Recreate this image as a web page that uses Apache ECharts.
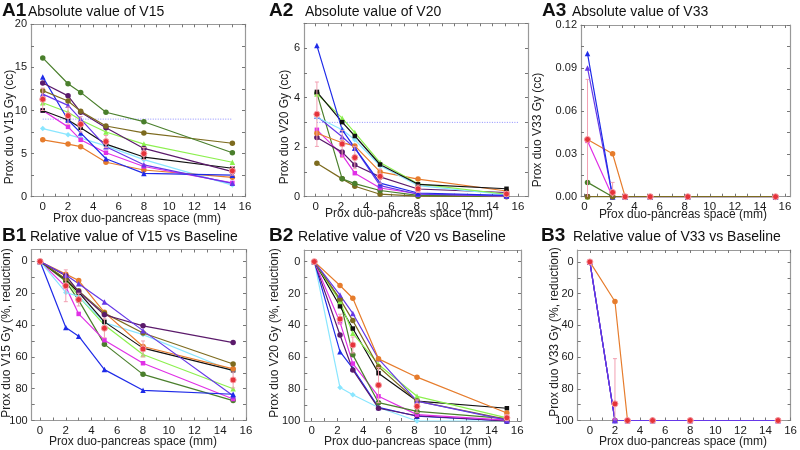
<!DOCTYPE html>
<html><head><meta charset="utf-8">
<script src="https://cdn.jsdelivr.net/npm/echarts@6/dist/echarts.min.js"></script>
<style>html,body{margin:0;padding:0;background:#fff}#c{width:800px;height:450px}</style>
</head><body><div id="c"></div>
<script>
// ---------- DATA ----------
// x positions (mm) per panel
const xA1 = [0, 2, 3, 5, 8, 15];
const xA2 = [0.1, 2.1, 3.1, 5.1, 8.1, 15.1];
const xA3 = [0.25, 2.25, 3.25, 5.25, 8.25, 15.25];
const xB1 = [0, 2, 3, 5, 8, 15];
const xB2 = [0.2, 2.2, 3.2, 5.2, 8.2, 15.2];
const xB3 = [0, 2, 3, 5, 8, 15];

// A1: absolute V15 (cc)
const darkGreenA1 = [16.1, 13.1, 12.1, 9.8, 8.7, 5.1];
const oliveA1     = [12.3, 11.1, 9.9, 8.2, 7.4, 6.2];
const purpleA1    = [13.2, 11.7, 9.8, 8.0, 5.6, 2.9];
const violetA1    = [11.9, 10.6, 9.0, 5.8, 3.7, 1.55];
const blueA1      = [13.9, 8.9, 7.4, 4.4, 2.7, 2.5];
const limeA1      = [10.9, 9.8, 8.9, 7.5, 6.1, 4.0];
const blackA1     = [10.0, 8.9, 8.0, 6.1, 4.6, 3.3];
const magentaA1   = [10.0, 8.1, 6.6, 5.1, 3.5, 1.6];
const cyanA1      = [7.9, 7.2, 6.8, 5.9, 4.3, 1.35];
const orangeA1    = [6.6, 6.1, 5.8, 4.0, 3.1, 2.25];
const meanA1      = [11.3, 9.4, 8.4, 6.4, 5.0, 3.0];
const errA1       = [1.3, 1.0, 0.9, 0.7, 0.7, 0.5];
const thresholdA1 = 9;
const thrSpanA1 = [0, 15];

// A2: absolute V20 (cc)
const darkGreenA2 = [4.18, 0.72, 0.53, 0.25, 0.05, 0.02];
const oliveA2     = [1.35, 0.72, 0.42, 0.1, 0.02, 0.0];
const purpleA2    = [2.39, 1.8, 1.28, 0.8, 0.31, 0.17];
const violetA2    = [3.25, 2.42, 1.96, 0.45, 0.1, 0.03];
const blueA2      = [6.1, 2.7, 1.97, 0.55, 0.15, 0.05];
const limeA2      = [4.15, 3.17, 2.59, 1.38, 0.52, 0.1];
const blackA2     = [4.23, 3.01, 2.45, 1.3, 0.5, 0.32];
const magentaA2   = [2.7, 1.69, 0.95, 0.35, 0.12, 0.02];
const cyanA2      = [3.21, 2.7, 2.3, 1.25, 0.45, 0.08];
const orangeA2    = [2.56, 2.18, 2.05, 1.0, 0.71, 0.23];
const meanA2      = [3.33, 2.13, 1.58, 0.82, 0.32, 0.11];
const errA2       = [1.3, 0.55, 0.45, 0.3, 0.15, 0.08];
const thresholdA2 = 3;
const thrSpanA2 = [0.1, 16];

// A3: absolute V33 (cc)
const darkGreenA3 = [0.01, 0, 0, 0, 0, 0];
const oliveA3     = [0, 0, 0, 0, 0, 0];
const purpleA3    = [0, 0, 0, 0, 0, 0];
const violetA3    = [0.09, 0, 0, 0, 0, 0];
const blueA3      = [0.1, 0, 0, 0, 0, 0];
const limeA3      = [0, 0, 0, 0, 0, 0];
const blackA3     = [0, 0, 0, 0, 0, 0];
const magentaA3   = [0.039, 0, 0, 0, 0, 0];
const cyanA3      = [0, 0, 0, 0, 0, 0];
const orangeA3    = [0.04, 0.03, 0, 0, 0, 0];
const meanA3      = [0.04, 0.003, 0, 0, 0, 0];
const errA3       = [0.042, 0.007, 0, 0, 0, 0];

// B1: relative V15 reduction (%)
const darkGreenB1 = [0, 12.5, 24.5, 52, 71, 87.5];
const oliveB1     = [0, 11, 18.5, 32.5, 45, 64.5];
const purpleB1    = [0, 9, 19, 33.5, 40.5, 51];
const violetB1    = [0, 8.5, 14, 25.5, 43.5, 84.5];
const blueB1      = [0, 41.5, 47, 68, 81, 83.5];
const limeB1      = [0, 11, 22, 40, 58.5, 80];
const blackB1     = [0, 11.5, 19.5, 38, 54.5, 68.5];
const magentaB1   = [0, 16, 33, 49.5, 64, 86.5];
const cyanB1      = [0, 19.5, 22, 38.5, 46, 69];
const orangeB1    = [0, 8, 12, 32, 53.5, 67.5];
const meanB1      = [0, 15.3, 24, 42, 55, 74.5];
const errB1       = [0, 10, 4, 6, 5, 5];

// B2: relative V20 reduction (%)
const darkGreenB2 = [0, 24, 58.5, 88.5, 94, 98.5];
const oliveB2     = [0, 23.5, 37, 66, 87.5, 99];
const purpleB2    = [0, 46, 68, 92, 96.7, 100];
const violetB2    = [0, 21, 32.5, 61, 87.5, 99.5];
const blueB2      = [0, 56.5, 67, 91.5, 97, 100];
const limeB2      = [0, 25, 45, 64.5, 84.5, 98];
const blackB2     = [0, 28, 42, 70, 87.5, 92];
const magentaB2   = [0, 38, 64, 84.5, 96, 99.5];
const cyanB2      = [0, 79, 83.5, 91.5, 100, 100];
const orangeB2    = [0, 15, 23, 61, 72.5, 95];
const meanB2      = [0, 36, 52.3, 77.5, 90.8, 98];
const errB2       = [0, 3, 5, 11, 4, 2];

// B3: relative V33 reduction (%)
const darkGreenB3 = [0, 100, 100, 100, 100, 100];
const blueB3      = [0, 100, 100, 100, 100, 100];
const magentaB3   = [0, 100, 100, 100, 100, 100];
const violetB3    = [0, 100, 100, 100, 100, 100];
const orangeB3    = [0, 25, 100, 100, 100, 100];
const meanB3      = [0, 89.5, 100, 100, 100, 100];
const errB3       = [0, 28.5, 0, 0, 0, 0];

// tick labels
const xTickLabels = [0, 2, 4, 6, 8, 10, 12, 14, 16];
const xMinorTicks = [0,1,2,3,4,5,6,7,8,9,10,11,12,13,14,15,16];
const yLabelsA1 = [0, 5, 10, 15, 20];
const yTicksA1 = [0, 2.5, 5, 7.5, 10, 12.5, 15, 17.5, 20];
const yLabelsA2 = [0, 2, 4, 6];
const yTicksA2 = [0, 1, 2, 3, 4, 5, 6, 7];
const yLabelsA3 = [0, 0.03, 0.06, 0.09, 0.12];
const yTicksA3 = [0, 0.015, 0.03, 0.045, 0.06, 0.075, 0.09, 0.105, 0.12];
const yLabelsB = [0, 20, 40, 60, 80, 100];
const yTicksB = [0, 10, 20, 30, 40, 50, 60, 70, 80, 90, 100];

// ---------- STYLE ----------
const C = {
  darkGreen: '#4a7f2c', olive: '#7d6b1f', purple: '#5b1a6b', violet: '#6638e8',
  blue: '#1f2be8', lime: '#8cf04e', black: '#111111', magenta: '#e030e6',
  cyan: '#8ae6ff', orange: '#e67c2c', mean: '#e5333b', err: '#f2a0b2', thr: '#8c8cff'
};
const SYM = {
  darkGreen: 'circle', olive: 'circle', purple: 'circle', violet: 'triangle', blue: 'triangle',
  lime: 'triangle', black: 'rect', magenta: 'rect', cyan: 'diamond', orange: 'circle'
};
const FONT = 'Liberation Sans, Arial, sans-serif';

const panels = [
  { grid:{left:31, top:24.3, width:214, height:172.4}, xr:[-0.93,16], yr:[0,20], inv:false,
    yLabels:yLabelsA1, yTicks:yTicksA1, yFmt:v=>String(v), xs:xA1,
    lines:{cyan:cyanA1, orange:orangeA1, magenta:magentaA1, black:blackA1, lime:limeA1, blue:blueA1,
           violet:violetA1, purple:purpleA1, olive:oliveA1, darkGreen:darkGreenA1},
    mean:meanA1, err:errA1, thr:thresholdA1, thrSpan:thrSpanA1 },
  { grid:{left:304, top:23.3, width:224, height:173.4}, xr:[-0.92,16.8], yr:[0,7], inv:false,
    yLabels:yLabelsA2, yTicks:yTicksA2, yFmt:v=>String(v), xs:xA2,
    lines:{olive:oliveA2, darkGreen:darkGreenA2, magenta:magentaA2, purple:purpleA2, orange:orangeA2,
           violet:violetA2, cyan:cyanA2, lime:limeA2, black:blackA2, blue:blueA2},
    mean:meanA2, err:errA2, thr:thresholdA2, thrSpan:thrSpanA2 },
  { grid:{left:581, top:25, width:209, height:171.7}, xr:[-0.27,16.4], yr:[0,0.12], inv:false,
    yLabels:yLabelsA3, yTicks:yTicksA3, yFmt:v=>v.toFixed(2), xs:xA3,
    lines:{cyan:cyanA3, black:blackA3, purple:purpleA3, lime:limeA3, darkGreen:darkGreenA3,
           magenta:magentaA3, orange:orangeA3, violet:violetA3, blue:blueA3, olive:oliveA3},
    mean:meanA3, err:errA3 },
  { grid:{left:31.7, top:249.5, width:214.3, height:171}, xr:[-0.65,16], yr:[-7.5,100], inv:true,
    yLabels:yLabelsB, yTicks:yTicksB, yFmt:v=>String(v), xs:xB1,
    lines:{darkGreen:darkGreenB1, magenta:magentaB1, lime:limeB1, cyan:cyanB1, black:blackB1,
           orange:orangeB1, olive:oliveB1, purple:purpleB1, violet:violetB1, blue:blueB1},
    mean:meanB1, err:errB1 },
  { grid:{left:304.3, top:250, width:216.7, height:171}, xr:[-0.58,16.3], yr:[-7.3,100], inv:true,
    yLabels:yLabelsB, yTicks:yTicksB, yFmt:v=>String(v), xs:xB2,
    lines:{cyan:cyanB2, blue:blueB2, purple:purpleB2, magenta:magentaB2, darkGreen:darkGreenB2,
           black:blackB2, lime:limeB2, olive:oliveB2, violet:violetB2, orange:orangeB2},
    mean:meanB2, err:errB2 },
  { grid:{left:577.7, top:250, width:215, height:170.5}, xr:[-0.97,16], yr:[-7.5,100], inv:true,
    yLabels:yLabelsB, yTicks:yTicksB, yFmt:v=>String(v), xs:xB3,
    lines:{darkGreen:darkGreenB3, magenta:magentaB3, blue:blueB3, orange:orangeB3, violet:violetB3},
    mean:meanB3, err:errB3 }
];

const titles = [
  {tag:'A1', text:'Absolute value of V15', x:2, tx:28, y:11},
  {tag:'A2', text:'Absolute value of V20', x:269, tx:305, y:11},
  {tag:'A3', text:'Absolute value of V33', x:542, tx:572, y:11},
  {tag:'B1', text:'Relative value of V15 vs Baseline', x:2, tx:30, y:236},
  {tag:'B2', text:'Relative value of V20 vs Baseline', x:269, tx:298, y:236},
  {tag:'B3', text:'Relative value of V33 vs Baseline', x:541, tx:573, y:236}
];
const yNames = [
  {t:'Prox duo V15 Gy (cc)', x:10, y:127},
  {t:'Prox duo V20 Gy (cc)', x:285, y:127},
  {t:'Prox duo V33 Gy (cc)', x:538, y:130},
  {t:'Prox duo V15 Gy (%, reduction)', x:7, y:333},
  {t:'Prox duo V20 Gy (%, reduction)', x:275, y:333},
  {t:'Prox duo V33 Gy (%, reduction)', x:555, y:332}
];
const xNames = [
  {x:137, y:219}, {x:409, y:214}, {x:683, y:215},
  {x:133, y:442}, {x:408, y:442}, {x:683, y:442}
];
const xNameText = 'Prox duo-pancreas space (mm)';

// ---------- BUILD ----------
const AX = '#999999';
const grid = [], xAxis = [], yAxis = [], series = [], graphic = [];
panels.forEach((p, i) => {
  grid.push(Object.assign({containLabel:false}, p.grid));
  const base = {type:'value', gridIndex:i, min:p.xr[0], max:p.xr[1], splitLine:{show:false},
    axisLine:{show:true, onZero:false, lineStyle:{color:AX, width:1.2}}};
  xAxis.push(Object.assign({}, base, {position:'bottom',
    axisTick:{show:true, inside:true, length:3, customValues:xMinorTicks, lineStyle:{color:'#777'}},
    axisLabel:{show:true, customValues:xTickLabels, margin:4, fontSize:11.5, color:'#1a1a1a', fontFamily:FONT}}));
  xAxis.push(Object.assign({}, base, {position:'top',
    axisTick:{show:true, inside:true, length:3, customValues:xMinorTicks, lineStyle:{color:'#777'}},
    axisLabel:{show:false}}));
  const ybase = {type:'value', gridIndex:i, min:p.yr[0], max:p.yr[1], inverse:p.inv, splitLine:{show:false},
    axisLine:{show:true, onZero:false, lineStyle:{color:AX, width:1.2}}};
  yAxis.push(Object.assign({}, ybase, {position:'left',
    axisTick:{show:true, inside:true, length:3, customValues:p.yTicks, lineStyle:{color:'#777'}},
    axisLabel:{show:true, customValues:p.yLabels, formatter:p.yFmt, margin:4, fontSize:11, color:'#1a1a1a', fontFamily:FONT}}));
  yAxis.push(Object.assign({}, ybase, {position:'right',
    axisTick:{show:true, inside:true, length:3, customValues:p.yTicks, lineStyle:{color:'#777'}},
    axisLabel:{show:false}}));
  const xi = i*2, yi = i*2;
  if (p.thr !== undefined) {
    series.push({type:'line', xAxisIndex:xi, yAxisIndex:yi, symbol:'none', silent:true, z:1,
      data:[[p.thrSpan[0], p.thr],[p.thrSpan[1], p.thr]],
      lineStyle:{color:C.thr, width:1, type:[1,1.5]}});
  }
  Object.keys(p.lines).forEach((k) => {
    series.push({type:'line', xAxisIndex:xi, yAxisIndex:yi, z:2,
      data:p.xs.map((x, j) => [x, p.lines[k][j]]),
      symbol:SYM[k], symbolSize:SYM[k]==='rect'?4.5:5.5, showSymbol:true,
      lineStyle:{color:C[k], width:1.2}, itemStyle:{color:C[k]}});
  });
  // error bars around the mean
  series.push({type:'custom', xAxisIndex:xi, yAxisIndex:yi, z:3, clip:true,
    data:p.xs.map((x, j) => [x, p.mean[j], p.err[j]]),
    renderItem:(params, api) => {
      const x = api.value(0), y = api.value(1), e = api.value(2);
      if (!e) return null;
      const a = api.coord([x, y + e]), b = api.coord([x, y - e]);
      const st = {stroke:C.err, lineWidth:1};
      return {type:'group', children:[
        {type:'line', shape:{x1:a[0], y1:a[1], x2:b[0], y2:b[1]}, style:st},
        {type:'line', shape:{x1:a[0]-2, y1:a[1], x2:a[0]+2, y2:a[1]}, style:st},
        {type:'line', shape:{x1:b[0]-2, y1:b[1], x2:b[0]+2, y2:b[1]}, style:st}
      ]};
    }});
  series.push({type:'line', xAxisIndex:xi, yAxisIndex:yi, z:4,
    data:p.xs.map((x, j) => [x, p.mean[j]]),
    symbol:'circle', symbolSize:6,
    lineStyle:{width:0, opacity:0}, itemStyle:{color:C.mean, borderColor:'#f7a0a8', borderWidth:1}});
});

titles.forEach(t => {
  graphic.push({type:'text', x:t.x, y:t.y, style:{text:t.tag, font:'bold 19px '+FONT, fill:'#111', textVerticalAlign:'middle'}});
  graphic.push({type:'text', x:t.tx, y:t.y+1, style:{text:t.text, font:'14px '+FONT, fill:'#111', textVerticalAlign:'middle'}});
});
yNames.forEach(n => {
  graphic.push({type:'text', x:n.x, y:n.y, rotation:Math.PI/2,
    style:{text:n.t, font:'12px '+FONT, fill:'#222', textAlign:'center', textVerticalAlign:'middle'}});
});
xNames.forEach(n => {
  graphic.push({type:'text', x:n.x, y:n.y, style:{text:xNameText, font:'12px '+FONT, fill:'#222', textAlign:'center', textVerticalAlign:'middle'}});
});

const chart = echarts.init(document.getElementById('c'), null, {renderer:'canvas'});
chart.setOption({animation:false, backgroundColor:'#fff', grid, xAxis, yAxis, series, graphic});
</script></body></html>
